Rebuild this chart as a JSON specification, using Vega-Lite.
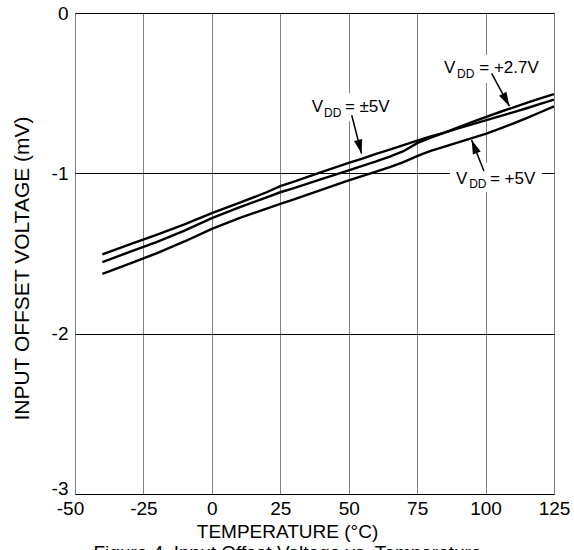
{
  "$schema": "https://vega.github.io/schema/vega-lite/v6.json",
  "width": 479,
  "height": 481,
  "autosize": {"type": "none"},
  "padding": {"left": 75, "top": 13, "right": 20, "bottom": 56},
  "background": "white",
  "config": {
    "view": {"stroke": "#555555", "strokeWidth": 1},
    "font": "Liberation Sans",
    "text": {"font": "Liberation Sans"}
  },
  "datasets": {
    "curves": [
      {"s": "pm5", "T": -40, "V": -1.506}, {"s": "pm5", "T": -30, "V": -1.443}, {"s": "pm5", "T": -20, "V": -1.382}, {"s": "pm5", "T": -10, "V": -1.318}, {"s": "pm5", "T": 0, "V": -1.248}, {"s": "pm5", "T": 10, "V": -1.185}, {"s": "pm5", "T": 20, "V": -1.118}, {"s": "pm5", "T": 25, "V": -1.08}, {"s": "pm5", "T": 30, "V": -1.052}, {"s": "pm5", "T": 40, "V": -0.993}, {"s": "pm5", "T": 50, "V": -0.935}, {"s": "pm5", "T": 55, "V": -0.908}, {"s": "pm5", "T": 60, "V": -0.878}, {"s": "pm5", "T": 65, "V": -0.852}, {"s": "pm5", "T": 70, "V": -0.824}, {"s": "pm5", "T": 75, "V": -0.796}, {"s": "pm5", "T": 80, "V": -0.77}, {"s": "pm5", "T": 85, "V": -0.746}, {"s": "pm5", "T": 90, "V": -0.72}, {"s": "pm5", "T": 95, "V": -0.695}, {"s": "pm5", "T": 100, "V": -0.67}, {"s": "pm5", "T": 105, "V": -0.645}, {"s": "pm5", "T": 110, "V": -0.62}, {"s": "pm5", "T": 115, "V": -0.594}, {"s": "pm5", "T": 120, "V": -0.567}, {"s": "pm5", "T": 125, "V": -0.54},
      {"s": "p27", "T": -40, "V": -1.554}, {"s": "p27", "T": -30, "V": -1.49}, {"s": "p27", "T": -20, "V": -1.427}, {"s": "p27", "T": -10, "V": -1.357}, {"s": "p27", "T": 0, "V": -1.28}, {"s": "p27", "T": 10, "V": -1.212}, {"s": "p27", "T": 20, "V": -1.15}, {"s": "p27", "T": 25, "V": -1.118}, {"s": "p27", "T": 30, "V": -1.092}, {"s": "p27", "T": 40, "V": -1.036}, {"s": "p27", "T": 50, "V": -0.981}, {"s": "p27", "T": 60, "V": -0.926}, {"s": "p27", "T": 65, "V": -0.896}, {"s": "p27", "T": 70, "V": -0.862}, {"s": "p27", "T": 75, "V": -0.812}, {"s": "p27", "T": 80, "V": -0.777}, {"s": "p27", "T": 85, "V": -0.746}, {"s": "p27", "T": 90, "V": -0.714}, {"s": "p27", "T": 95, "V": -0.681}, {"s": "p27", "T": 100, "V": -0.649}, {"s": "p27", "T": 105, "V": -0.619}, {"s": "p27", "T": 110, "V": -0.59}, {"s": "p27", "T": 115, "V": -0.561}, {"s": "p27", "T": 120, "V": -0.533}, {"s": "p27", "T": 125, "V": -0.506},
      {"s": "p5", "T": -40, "V": -1.627}, {"s": "p5", "T": -30, "V": -1.563}, {"s": "p5", "T": -20, "V": -1.497}, {"s": "p5", "T": -10, "V": -1.425}, {"s": "p5", "T": 0, "V": -1.346}, {"s": "p5", "T": 10, "V": -1.28}, {"s": "p5", "T": 20, "V": -1.22}, {"s": "p5", "T": 25, "V": -1.19}, {"s": "p5", "T": 30, "V": -1.163}, {"s": "p5", "T": 40, "V": -1.103}, {"s": "p5", "T": 50, "V": -1.044}, {"s": "p5", "T": 60, "V": -0.99}, {"s": "p5", "T": 65, "V": -0.962}, {"s": "p5", "T": 70, "V": -0.93}, {"s": "p5", "T": 75, "V": -0.893}, {"s": "p5", "T": 77, "V": -0.879}, {"s": "p5", "T": 80, "V": -0.86}, {"s": "p5", "T": 85, "V": -0.833}, {"s": "p5", "T": 90, "V": -0.807}, {"s": "p5", "T": 95, "V": -0.781}, {"s": "p5", "T": 100, "V": -0.754}, {"s": "p5", "T": 105, "V": -0.723}, {"s": "p5", "T": 110, "V": -0.69}, {"s": "p5", "T": 115, "V": -0.655}, {"s": "p5", "T": 120, "V": -0.619}, {"s": "p5", "T": 125, "V": -0.582}
    ],
    "boxes": [
      {"x1": 35.1, "x2": 65.8, "y1": -0.499, "y2": -0.674},
      {"x1": 83.4, "x2": 119.2, "y1": -0.262, "y2": -0.437},
      {"x1": 87.0, "x2": 120.6, "y1": -0.936, "y2": -1.117}
    ],
    "arrows": [
      {"name": "pm5", "x1": 51.1, "y1": -0.6375, "x2": 54.7, "y2": -0.877},
      {"name": "p27", "x1": 102.2, "y1": -0.377, "x2": 108.7, "y2": -0.581},
      {"name": "p5", "x1": 99.4, "y1": -0.986, "x2": 94.9, "y2": -0.792}
    ],
    "mainText": [
      {"x": 36.5, "y": -0.617, "text": "V"},
      {"x": 48.6, "y": -0.617, "text": "= ±5V"},
      {"x": 84.8, "y": -0.377, "text": "V"},
      {"x": 97.7, "y": -0.377, "text": "= +2.7V"},
      {"x": 89.2, "y": -1.064, "text": "V"},
      {"x": 101.6, "y": -1.064, "text": "= +5V"}
    ],
    "subText": [
      {"x": 41.0, "y": -0.648, "text": "DD"},
      {"x": 89.6, "y": -0.408, "text": "DD"},
      {"x": 94.0, "y": -1.094, "text": "DD"}
    ]
  },
  "layer": [
    {
      "data": {"name": "boxes"},
      "mark": {"type": "rect", "fill": "white", "stroke": null},
      "encoding": {
        "x": {
          "field": "x1", "type": "quantitative",
          "scale": {"domain": [-50, 125], "nice": false, "zero": false},
          "axis": {
            "values": [-50, -25, 0, 25, 50, 75, 100, 125],
            "labelExpr": "'' + datum.value",
            "grid": true, "gridColor": "#808080", "gridWidth": 1, "gridOpacity": 1,
            "ticks": false, "domain": false,
            "labelFontSize": 19, "labelColor": "black", "labelPadding": 5,
            "labelOffset": {"condition": {"test": "datum.value === -50", "value": -5}, "value": 0},
            "labelFlush": false, "labelBound": false, "labelOverlap": false,
            "labelFont": "Liberation Sans",
            "title": ["TEMPERATURE (°C)", "Figure 4. Input Offset Voltage vs. Temperature"],
            "titleFont": "Liberation Sans", "titleFontSize": 19, "titleFontWeight": "normal",
            "titleColor": "black", "titleX": 212, "titleY": 43,
            "titleBaseline": "alphabetic", "titleAlign": "center", "titleLineHeight": 21
          }
        },
        "x2": {"field": "x2"},
        "y": {
          "field": "y1", "type": "quantitative",
          "scale": {"domain": [-3, 0], "nice": false, "zero": false},
          "axis": {
            "values": [-3, -2, -1, 0],
            "labelExpr": "'' + datum.value",
            "grid": true, "gridColor": "black", "gridWidth": 1, "gridOpacity": 1,
            "ticks": false, "domain": false,
            "labelFontSize": 19, "labelColor": "black", "labelPadding": 7,
            "labelBaseline": {"condition": {"test": "datum.value === -3", "value": "alphabetic"}, "value": "middle"},
            "labelFont": "Liberation Sans", "labelOverlap": false, "labelBound": false, "labelFlush": false,
            "title": "INPUT OFFSET VOLTAGE (mV)",
            "titleFont": "Liberation Sans", "titleFontSize": 21, "titleFontWeight": "normal",
            "titleColor": "black", "titleX": -53, "titleY": 255, "titleAngle": -90,
            "titleBaseline": "middle", "titleAlign": "center"
          }
        },
        "y2": {"field": "y2"}
      }
    },
    {
      "data": {"name": "curves"},
      "mark": {"type": "line", "color": "black", "strokeWidth": 2.4, "interpolate": "linear"},
      "encoding": {
        "x": {"field": "T", "type": "quantitative"},
        "y": {"field": "V", "type": "quantitative"},
        "detail": {"field": "s", "type": "nominal"}
      }
    },
    {
      "data": {"name": "arrows"},
      "mark": {"type": "rule", "color": "black", "strokeWidth": 1.5},
      "encoding": {
        "x": {"field": "x1", "type": "quantitative"},
        "y": {"field": "y1", "type": "quantitative"},
        "x2": {"field": "x2"},
        "y2": {"field": "y2"}
      }
    },
    {
      "data": {"name": "arrows"},
      "transform": [{"filter": "datum.name === 'pm5'"}],
      "mark": {"type": "point", "shape": "M0,0L-0.6,2L0.6,2Z", "filled": true, "color": "black", "opacity": 1, "size": 196, "angle": 165.4},
      "encoding": {
        "x": {"field": "x2", "type": "quantitative"},
        "y": {"field": "y2", "type": "quantitative"}
      }
    },
    {
      "data": {"name": "arrows"},
      "transform": [{"filter": "datum.name === 'p27'"}],
      "mark": {"type": "point", "shape": "M0,0L-0.6,2L0.6,2Z", "filled": true, "color": "black", "opacity": 1, "size": 196, "angle": 151.7},
      "encoding": {
        "x": {"field": "x2", "type": "quantitative"},
        "y": {"field": "y2", "type": "quantitative"}
      }
    },
    {
      "data": {"name": "arrows"},
      "transform": [{"filter": "datum.name === 'p5'"}],
      "mark": {"type": "point", "shape": "M0,0L-0.6,2L0.6,2Z", "filled": true, "color": "black", "opacity": 1, "size": 196, "angle": 338.2},
      "encoding": {
        "x": {"field": "x2", "type": "quantitative"},
        "y": {"field": "y2", "type": "quantitative"}
      }
    },
    {
      "data": {"name": "mainText"},
      "mark": {"type": "text", "align": "left", "baseline": "alphabetic", "fontSize": 17, "color": "black", "font": "Liberation Sans"},
      "encoding": {
        "x": {"field": "x", "type": "quantitative"},
        "y": {"field": "y", "type": "quantitative"},
        "text": {"field": "text", "type": "nominal"}
      }
    },
    {
      "data": {"name": "subText"},
      "mark": {"type": "text", "align": "left", "baseline": "alphabetic", "fontSize": 12, "color": "black", "font": "Liberation Sans"},
      "encoding": {
        "x": {"field": "x", "type": "quantitative"},
        "y": {"field": "y", "type": "quantitative"},
        "text": {"field": "text", "type": "nominal"}
      }
    }
  ]
}
